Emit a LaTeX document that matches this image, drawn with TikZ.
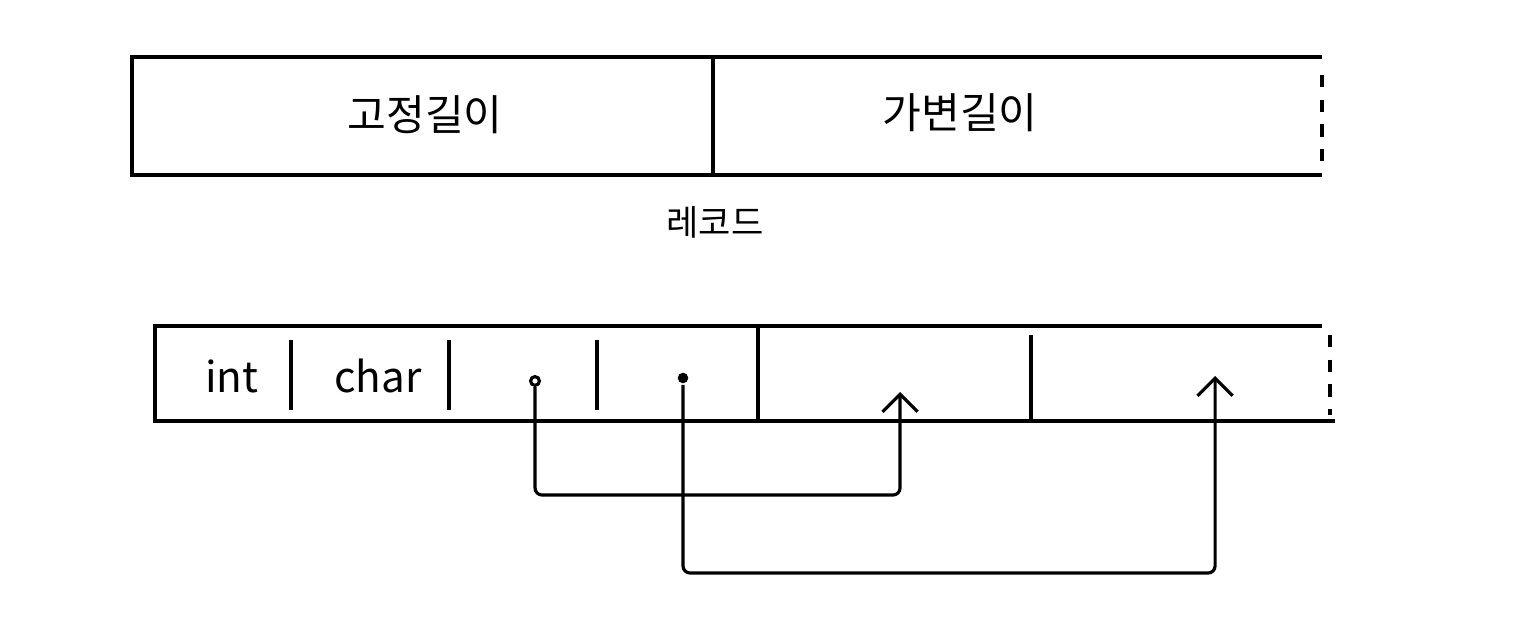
\documentclass[tikz,border=0pt]{standalone}
\usepackage{fontspec}
\newfontfamily\kr{Noto Sans CJK KR}
\usetikzlibrary{arrows.meta}

\begin{document}
\begin{tikzpicture}[scale=0.1]
            \tikzstyle{every node}+=[inner sep=0pt, font=\kr\fontsize{12}{14}\selectfont]
            \tikzstyle{every path}+=[line width=0.9pt]
            \tikzstyle{cut}=[dashed, dash pattern=on 3.5pt off 3.5pt]
            \tikzstyle{ptr}=[-{Straight Barb[length=5pt, width=10pt]}, rounded corners=2pt]
            \useasboundingbox (0,0) rectangle (153.6,-63.2);
            % record
            \draw [black] (132.2,-5.7) -- (13.2,-5.7) -- (13.2,-17.5) -- (132.2,-17.5);
            \draw [black] (71.3,-5.7) -- (71.3,-17.5);
            \draw [black, cut] (132.2,-7.5) -- (132.2,-16.5);
            \node (fixed) at (42.5,-11.5) {고정길이};
            \node (var) at (96,-11.3) {가변길이};
            \node (rec) at (71.5,-22.2) [font=\kr\fontsize{10}{12}\selectfont] {레코드};
            % fixed part
            \draw [black] (15.5,-32.6) rectangle (75.8,-42.1);
            \draw [black] (29.1,-34) -- (29.1,-41);
            \draw [black] (44.9,-34) -- (44.9,-41);
            \draw [black] (59.7,-34) -- (59.7,-41);
            \node (int) at (23.2,-37.6) {int};
            \node (char) at (37.8,-37.6) {char};
            \node (p1) at (53.5,-38.1) [circle, draw, minimum size=2.5pt] {};
            \node (p2) at (68.3,-37.8) [circle, fill, minimum size=3pt] {};
            % variable part
            \draw [black] (75.8,-32.6) -- (132.2,-32.6);
            \draw [black] (75.8,-42.1) -- (133.5,-42.1);
            \draw [black] (103.1,-33.5) -- (103.1,-42.1);
            \draw [black, cut] (133,-33.5) -- (133,-41.5);
            \coordinate (t1) at (90,-39.2);
            \coordinate (t2) at (121.5,-37.6);
            \coordinate (b1) at (0,-49.5);
            \coordinate (b2) at (0,-57.3);
            \draw [black, ptr] (p1) -- (p1 |- b1) -| (t1);
            \draw [black, ptr] (p2) -- (p2 |- b2) -| (t2);
\end{tikzpicture}
\end{document}
